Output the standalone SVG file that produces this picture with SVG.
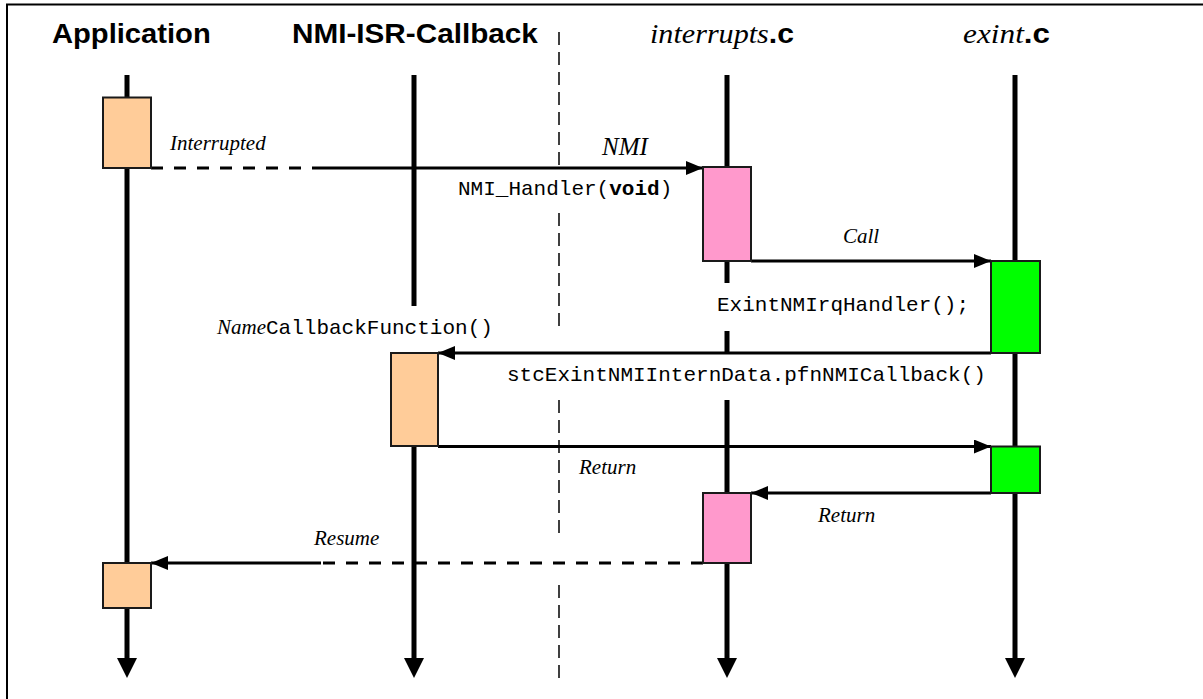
<svg xmlns="http://www.w3.org/2000/svg" width="1203" height="699" viewBox="0 0 1203 699">
<style>
.hdr{font-family:"Liberation Sans",Arial,sans-serif;font-weight:bold;font-size:27px;fill:#000}
.hit{font-family:"Liberation Serif","Times New Roman",serif;font-style:italic;font-weight:normal}
.lab{font-family:"Liberation Serif","Times New Roman",serif;font-style:italic;font-size:21px;fill:#000}
.code{font-family:"Liberation Mono","Courier New",monospace;font-size:21px;fill:#000}
.life{stroke:#000;stroke-width:5;fill:none}
.msg{stroke:#000;stroke-width:3;fill:none}
.dash{stroke-dasharray:12 11}
.sep{stroke:#000;stroke-width:1.5;stroke-dasharray:13 7;fill:none}
.act{stroke:#1a1a1a;stroke-width:2}
.org{fill:#FFCC99}
.pink{fill:#FF99CC}
.grn{fill:#00FF00}
</style>
<defs>
<marker id="ah" viewBox="0 0 17 14" refX="17" refY="7" markerWidth="17" markerHeight="14" markerUnits="userSpaceOnUse" orient="auto">
<path d="M0,0 L17,7 L0,14 Z" fill="#000"/>
</marker>
</defs>
<rect width="1203" height="699" fill="#fff"/>
<path d="M7,699 V4.5 H1203" stroke="#000" stroke-width="2" fill="none"/>

<g id="headers">
<text class="hdr" transform="translate(52,43) scale(1.08,1)">Application</text>
<text class="hdr" transform="translate(292,43) scale(1.1,1)">NMI-ISR-Callback</text>
<text class="hdr" transform="translate(650,43) scale(1.116,1)"><tspan class="hit">interrupts</tspan>.c</text>
<text class="hdr" transform="translate(963,43) scale(1.16,1)"><tspan class="hit">exint</tspan>.c</text>
</g>

<path id="separator" class="sep" d="M559,32 V167 M559,213 V330 M559,400 V540 M559,585 V680"/>

<g id="lifelines">
<g id="life-application"><path class="life" d="M127,75 V660"/><path d="M117,658 L137,658 L127,678 Z" fill="#000"/></g>
<g id="life-callback"><path class="life" d="M414,75 V306 M414,446 V660"/><path d="M404,658 L424,658 L414,678 Z" fill="#000"/></g>
<g id="life-interrupts"><path class="life" d="M727,75 V167 M727,261 V283 M727,331 V353 M727,400 V493 M727,563 V660"/><path d="M717,658 L737,658 L727,678 Z" fill="#000"/></g>
<g id="life-exint"><path class="life" d="M1015,75 V660"/><path d="M1005,658 L1025,658 L1015,678 Z" fill="#000"/></g>
</g>

<g id="connectors">
<path class="msg dash" d="M151,168 H318"/>
<path class="msg" d="M318,168 H703" marker-end="url(#ah)"/>
<path class="msg" d="M751,261 H991" marker-end="url(#ah)"/>
<path class="msg" d="M991,353 H438" marker-end="url(#ah)"/>
<path class="msg" d="M438,446.5 H991" marker-end="url(#ah)"/>
<path class="msg" d="M991,493 H751" marker-end="url(#ah)"/>
<path class="msg dash" d="M703,563 H321"/>
<path class="msg" d="M321,563 H151" marker-end="url(#ah)"/>
</g>

<g id="app-act1"><rect class="act org" x="103" y="97.5" width="48" height="70.5"/></g>
<g id="app-act2"><rect class="act org" x="103" y="563" width="48" height="45"/></g>
<g id="cb-act"><rect class="act org" x="391" y="353" width="47" height="93"/></g>
<g id="int-act1"><rect class="act pink" x="703" y="167" width="48" height="94"/></g>
<g id="int-act2"><rect class="act pink" x="703" y="493" width="48" height="70"/></g>
<g id="ex-act1"><rect class="act grn" x="991" y="261" width="49" height="92"/></g>
<g id="ex-act2"><rect class="act grn" x="991" y="446.5" width="49" height="46.5"/></g>

<g id="labels">
<text class="lab" x="170" y="150">Interrupted</text>
<text class="lab" x="602" y="155" style="font-size:25px">NMI</text>
<text class="code" x="458" y="195">NMI_Handler(<tspan font-weight="bold">void</tspan>)</text>
<text class="lab" x="843" y="243">Call</text>
<text class="code" x="717" y="311">ExintNMIrqHandler();</text>
<text class="code" x="217" y="334"><tspan class="lab">Name</tspan>CallbackFunction()</text>
<text class="code" x="507" y="381">stcExintNMIInternData.pfnNMICallback()</text>
<text class="lab" x="579" y="474">Return</text>
<text class="lab" x="818" y="522">Return</text>
<text class="lab" x="314" y="545">Resume</text>
</g>
</svg>
